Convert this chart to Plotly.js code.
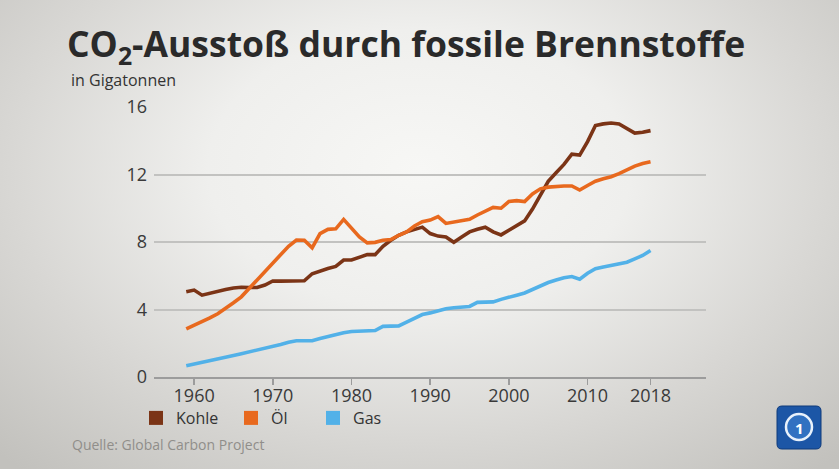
<!DOCTYPE html>
<html><head><meta charset="utf-8">
<script src="https://cdn.plot.ly/plotly-3.0.1.min.js"></script>
<style>
html,body{margin:0;padding:0;}
body{width:839px;height:469px;overflow:hidden;
background: radial-gradient(ellipse 72% 85% at 50% 36%, #f7f7f5 0%, #efefed 35%, #d8d7d4 68%, #c2c1bd 100%);}
#chart{width:839px;height:469px;}
</style></head>
<body><div id="chart"></div>
<script>
const years = [];
for (let y = 1959; y <= 2018; y++) years.push(y);

const kohle = [5.05,5.15,4.85,4.97,5.08,5.18,5.27,5.32,5.30,5.30,5.45,5.69,5.68,5.68,5.72,5.70,6.12,6.30,6.43,6.55,6.93,6.93,7.10,7.25,7.25,7.75,8.10,8.40,8.60,8.75,8.88,8.50,8.35,8.30,7.98,8.30,8.60,8.75,8.88,8.60,8.42,8.70,9.00,9.25,9.95,10.80,11.60,12.10,12.60,13.20,13.15,13.95,14.90,15.00,15.05,15.00,14.75,14.45,14.50,14.60];
const oel = [2.85,3.05,3.25,3.50,3.75,4.05,4.40,4.75,5.25,5.75,6.25,6.75,7.30,7.75,8.12,8.10,7.65,8.50,8.75,8.78,9.34,8.85,8.30,7.95,7.98,8.10,8.15,8.40,8.60,8.95,9.20,9.30,9.50,9.10,9.20,9.30,9.35,9.60,9.85,10.05,10.00,10.40,10.45,10.40,10.85,11.15,11.25,11.30,11.32,11.32,11.08,11.35,11.60,11.75,11.87,12.05,12.30,12.50,12.65,12.75];
const gas = [0.67,0.78,0.88,0.98,1.08,1.18,1.28,1.38,1.48,1.60,1.70,1.80,1.93,2.06,2.15,2.15,2.15,2.28,2.40,2.50,2.62,2.70,2.70,2.70,2.75,3.00,3.03,3.03,3.25,3.50,3.70,3.80,3.93,4.05,4.10,4.13,4.18,4.42,4.43,4.45,4.60,4.75,4.85,4.98,5.20,5.40,5.60,5.75,5.88,5.95,5.80,6.15,6.42,6.52,6.60,6.68,6.80,7.00,7.20,7.50];

const seriesNames = ['Kohle', 'Öl', 'Gas'];
const seriesColors = ['#7b3416', '#e8691e', '#52b1e8'];
const seriesValues = [kohle, oel, gas];

const xTickVals = [1960, 1970, 1980, 1990, 2000, 2010, 2018];
const yTickVals = [0, 4, 8, 12, 16];

// plot area in pixels
const L = 154, R = 706, T = 107, B = 377;
const W = 839, H = 469;
const px = v => (v - L) / (R - L);
const py = v => (B - v) / (B - T);

const traces = [];
seriesValues.forEach((vals, i) => {
  traces.push({
    x: years, y: vals, type: 'scatter', mode: 'lines',
    line: {color: seriesColors[i], width: 3.6},
    showlegend: false, hoverinfo: 'skip'
  });
});
const legendKeys = ['legend', 'legend2', 'legend3'];
seriesNames.forEach((n, i) => {
  traces.push({
    x: [null], y: [null], type: 'scatter', mode: 'markers', name: n,
    marker: {symbol: 'square', size: 14, color: seriesColors[i]},
    showlegend: true, legend: legendKeys[i]
  });
});

const legFont = {family: 'Open Sans, sans-serif', size: 16, color: '#333333'};
const legendBase = {orientation: 'h', yanchor: 'middle', xanchor: 'left',
  bgcolor: 'rgba(0,0,0,0)', font: legFont, borderwidth: 0, itemclick: false};
const legY = py(418);

const layout = {
  width: W, height: H,
  paper_bgcolor: 'rgba(0,0,0,0)', plot_bgcolor: 'rgba(0,0,0,0)',
  margin: {l: L, r: W - R, t: T, b: H - B, pad: 0},
  title: {
    text: 'CO<sub>2</sub>-Ausstoß durch fossile Brennstoffe',
    font: {family: 'Open Sans, sans-serif', size: 35.5, color: '#2a2a2a', weight: 'bold'},
    xref: 'container', yref: 'container', x: 67 / W, xanchor: 'left',
    y: 1 - 45 / H, yanchor: 'middle'
  },
  xaxis: {
    range: [1954.9, 2025.05], tickvals: xTickVals, ticktext: xTickVals.map(String),
    showgrid: false, zeroline: false, showline: true, linecolor: '#9c9c9c', linewidth: 2,
    ticks: 'outside', ticklen: 6, tickwidth: 1.5, tickcolor: '#9c9c9c',
    ticklabelstandoff: -5,
    tickfont: {family: 'Open Sans, sans-serif', size: 18, color: '#3a3a3a'},
    fixedrange: true
  },
  yaxis: {
    range: [0, 16], tickvals: yTickVals, ticktext: yTickVals.map(String),
    showgrid: true, gridcolor: '#c2c2c0', gridwidth: 2, zeroline: false, showline: false,
    ticks: '', ticklabelstandoff: 6,
    tickfont: {family: 'Open Sans, sans-serif', size: 18, color: '#3a3a3a'},
    fixedrange: true
  },
  legend: Object.assign({}, legendBase, {x: px(136), y: legY}),
  legend2: Object.assign({}, legendBase, {x: px(231), y: legY}),
  legend3: Object.assign({}, legendBase, {x: px(313), y: legY}),
  annotations: [
    {text: 'in Gigatonnen', xref: 'paper', yref: 'paper', x: px(69), y: py(80),
     xanchor: 'left', yanchor: 'middle', showarrow: false,
     font: {family: 'Open Sans, sans-serif', size: 16, color: '#333333'}},
    {text: 'Quelle: Global Carbon Project', xref: 'paper', yref: 'paper', x: px(70), y: py(444),
     xanchor: 'left', yanchor: 'middle', showarrow: false,
     font: {family: 'Open Sans, sans-serif', size: 14, color: '#908e8a'}},
    {text: '<b>1</b>', xref: 'paper', yref: 'paper', x: px(799), y: py(427.5),
     xanchor: 'center', yanchor: 'middle', showarrow: false,
     font: {family: 'Open Sans, sans-serif', size: 15, color: '#ffffff'}}
  ],
  shapes: [
    {type: 'path', xref: 'paper', yref: 'paper',
     path: (function(){
       const x0 = px(777), x1 = px(821), y0 = py(449), y1 = py(406);
       const rx = 5 / (R - L), ry = 5 / (B - T);
       return `M${x0+rx},${y0} L${x1-rx},${y0} Q${x1},${y0} ${x1},${y0+ry} L${x1},${y1-ry} Q${x1},${y1} ${x1-rx},${y1} L${x0+rx},${y1} Q${x0},${y1} ${x0},${y1-ry} L${x0},${y0+ry} Q${x0},${y0} ${x0+rx},${y0} Z`;
     })(),
     fillcolor: '#1c56a6', line: {color: '#0f3a7a', width: 1}},
    {type: 'circle', xref: 'paper', yref: 'paper', x0: px(786), x1: px(812), y0: py(440), y1: py(414),
     fillcolor: 'rgba(70,140,220,0.5)', line: {color: '#e8f1fb', width: 2.5}}
  ]
};

Plotly.newPlot('chart', traces, layout, {displayModeBar: false, staticPlot: true});
</script>
</body></html>
